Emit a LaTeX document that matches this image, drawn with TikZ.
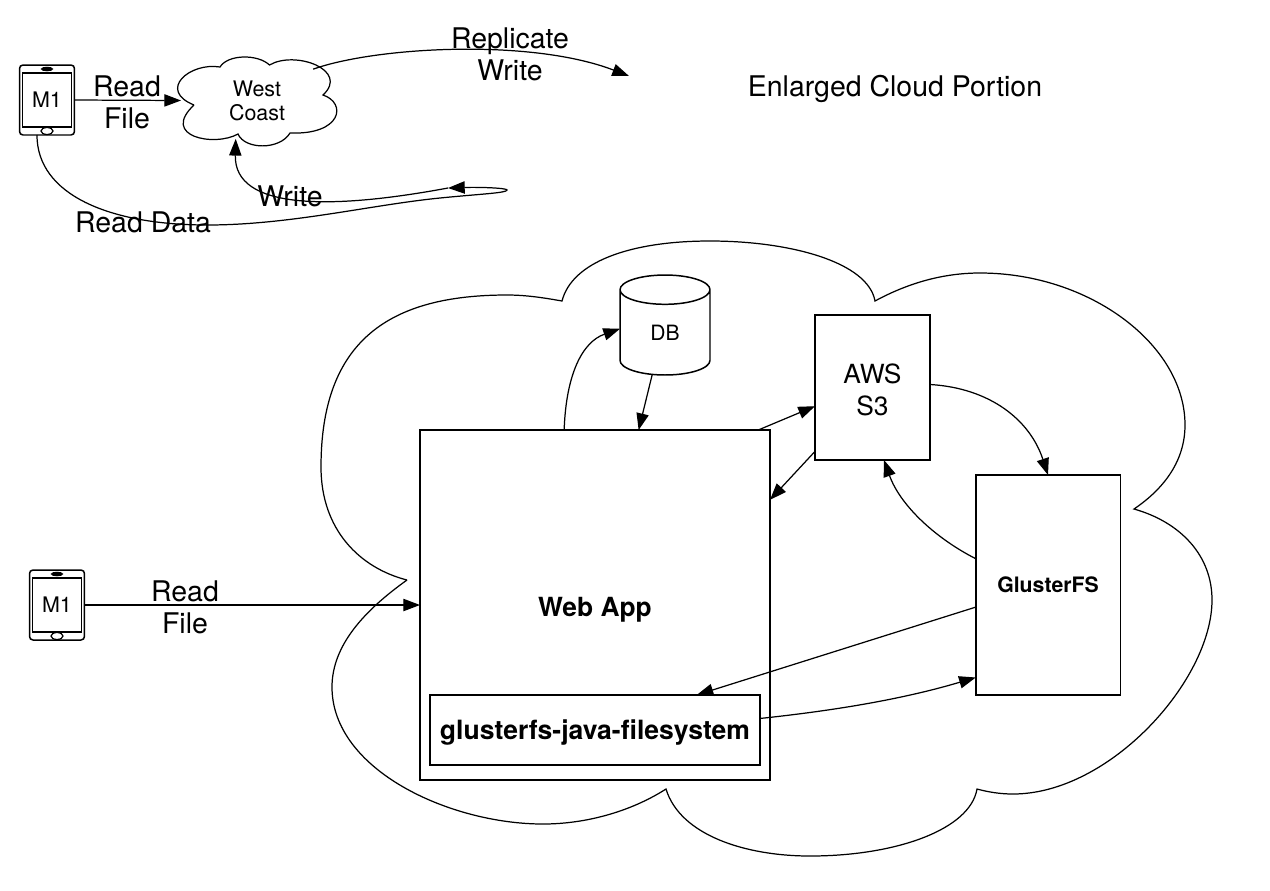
\documentclass[tikz,border=0pt]{standalone}
\usepackage{fontspec}
\setmainfont{TeX Gyre Heros}
\usetikzlibrary{arrows.meta,calc,shapes.geometric}

\tikzset{
  box/.style={draw, line width=0.85pt, rectangle, inner sep=0pt, outer sep=0pt, align=center},
  mobile/.style={draw, line width=0.85pt, rectangle, rounded corners=2pt, minimum width=11mm, minimum height=14mm, inner sep=0pt, outer sep=0pt},
  screen/.style={draw, line width=0.85pt, rectangle, minimum width=9.8mm, minimum height=10.8mm, inner sep=0pt, font=\fontsize{12.2}{14}\selectfont},
  speaker/.style={draw, ellipse, line width=0.6pt, fill=black, minimum width=2.2mm, minimum height=0.7mm, inner sep=0pt},
  homebtn/.style={draw, ellipse, line width=0.7pt, minimum width=2.4mm, minimum height=1.4mm, inner sep=0pt},
  label/.style={align=center, inner sep=0pt, font=\fontsize{16.2}{18.2}\selectfont},
  conn/.style={-{Triangle[length=9.5pt,width=7pt]}, line width=0.7pt},
  cloudline/.style={line width=0.7pt}
}

\begin{document}
\begin{tikzpicture}[x=0.02cm, y=-0.02cm]
  \useasboundingbox (0,0) rectangle (1270,890);

  % small cloud
  \draw[cloudline] (194,105) .. controls (157,90) and (190,62) .. (220,67)
    .. controls (228,54) and (258,54) .. (269.5,65)
    .. controls (295,50) and (350,70) .. (323,95)
    .. controls (347,103) and (342,135) .. (290,133)
    .. controls (280,150) and (245,150) .. (238,134)
    .. controls (215,147) and (160,137) .. (194,105);
  \node[ellipse, minimum width=30.4mm, minimum height=16mm, inner sep=0pt, outer sep=0pt, align=center,
    font=\fontsize{12.2}{13.6}\selectfont] (westcoast) at (257,100.5) {West\\Coast};

  % big cloud
  \draw[cloudline] (407,580) .. controls (360,568) and (321,530) .. (321,467)
    .. controls (321,340) and (390,295) .. (507,295)
    .. controls (527,295) and (545,298) .. (562,301)
    .. controls (572,262) and (630,241) .. (710,241)
    .. controls (790,241) and (868,262) .. (875,301)
    .. controls (910,282) and (945,273) .. (980,273)
    .. controls (1090,273) and (1185,345) .. (1185,425)
    .. controls (1185,460) and (1165,488) .. (1134,509)
    .. controls (1180,522) and (1212,555) .. (1212,600)
    .. controls (1212,680) and (1110,794) .. (1013,794)
    .. controls (1000,794) and (988,792) .. (977,789)
    .. controls (970,830) and (895,856) .. (810,856)
    .. controls (745,856) and (680,835) .. (666,789)
    .. controls (630,812) and (585,824) .. (543,824)
    .. controls (450,824) and (332,770) .. (332,687)
    .. controls (332,645) and (365,610) .. (407,580);

  % phones
  \node[mobile] (mobiletop) at (47,100) {};
  \node[mobile] (mobilebottom) at (57,605) {};
  \node[screen] (screentop) at (mobiletop) {M1};
  \node[screen] (screenbottom) at (mobilebottom) {M1};
  \foreach \ph in {mobiletop,mobilebottom} {
    \node[speaker] (\ph speaker) at ($(\ph.north)+(0,4)$) {};
    \node[homebtn] (\ph home) at ($(\ph.south)+(0,-4)$) {};
  }

  % boxes
  \node[box, minimum width=70mm, minimum height=70mm] (webapp) at (595,605) {};
  \node[inner sep=0pt, font=\fontsize{15}{17}\selectfont\bfseries] (webapplabel) at (595,610) {Web App};
  \node[box, minimum width=66mm, minimum height=14mm] (javafs) at (595,730) {};
  \node[inner sep=0pt, font=\fontsize{15.1}{17}\selectfont\bfseries] (javafslabel) at (595,733) {glusterfs-java-filesystem};
  \node[box, minimum width=23mm, minimum height=29mm] (aws) at (872.5,387.5) {};
  \node[inner sep=0pt, align=center, font=\fontsize{15}{18}\selectfont] (awslabel) at (872.5,390) {AWS\\S3};
  \node[box, minimum width=28.9mm, minimum height=44mm, font=\fontsize{12.1}{14}\selectfont\bfseries] (gluster) at (1048,585) {GlusterFS};
  \node[cylinder, draw, line width=0.85pt, shape border rotate=90, aspect=1, minimum width=18mm, minimum height=20mm, anchor=shape center,
    inner sep=0pt, outer sep=0pt, font=\fontsize{12}{14}\selectfont] (db) at (665,325) {DB};

  % free ends
  \coordinate (replicateend) at (629,76);
  \coordinate (writestart) at (448,188);

  % top part
  \draw[conn] (mobiletop.east) -- (westcoast.west);
  \draw[conn, shorten <=3pt] (westcoast.30) .. controls (375,47) and (530,38) .. (replicateend);
  \draw[conn] (writestart) .. controls (330,210) and (234,210) .. (westcoast.241);
  \draw[conn] (mobiletop.254) .. controls (37,195) and (110,225) .. (207,225)
    .. controls (290,225) and (370,205) .. (440,198)
    .. controls (480,194) and (507,193) .. (507,190)
    .. controls (507,188) and (480,187) .. (writestart);

  % enlarged part
  \draw[conn] (mobilebottom.east) -- (webapp.west);
  \draw[conn] (webapp.100) .. controls (566,375) and (582,342) .. (db.175);
  \draw[conn] (db.253) -- (webapp.76);
  \draw[conn] (webapp.47) -- (aws.198.7);
  \draw[conn] (aws.228.6) -- (webapp.31.4);
  \draw[conn] (aws.3.5) .. controls (990,388) and (1030,420) .. (gluster.north);
  \draw[conn] (gluster.160) .. controls (935,538) and (900,505) .. (aws.279);
  \draw[conn] (gluster.197) -- (javafs.19.2);
  \draw[conn] (javafs.4.85) .. controls (830,711) and (900,700) .. (gluster.232.5);

  % labels
  \node[label] (readfiletop) at (127,102) {Read\\File};
  \node[label] (replicate) at (510,54) {Replicate\\Write};
  \node[label] (writelabel) at (290,196) {Write};
  \node[label] (readdata) at (143,222) {Read Data};
  \node[label] (enlarged) at (895,89) {Enlarged Cloud Portion};
  \node[label] (readfilebottom) at (185,607) {Read\\File};
\end{tikzpicture}
\end{document}
